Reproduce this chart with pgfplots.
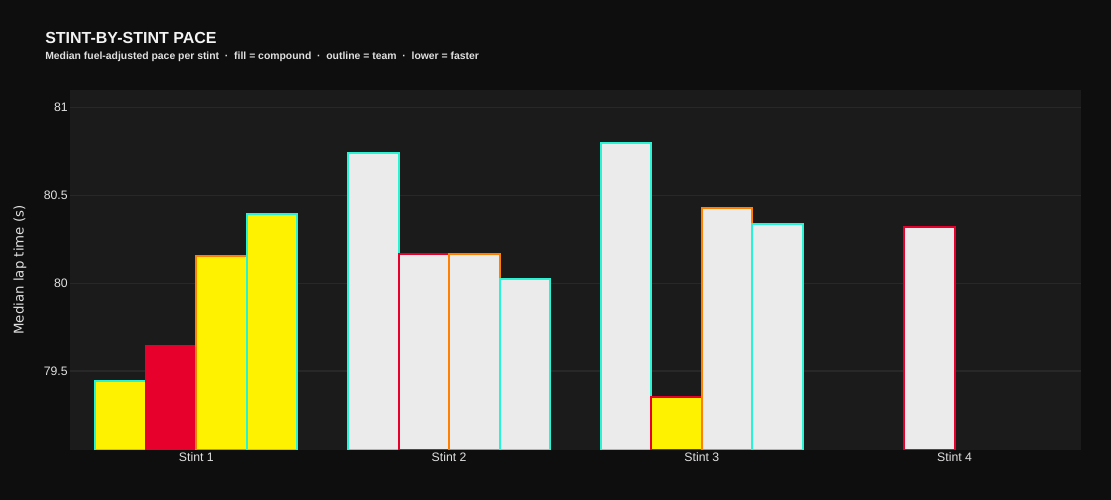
\documentclass[border=0pt]{standalone}
\usepackage{pgfplots}
\pgfplotsset{compat=1.18}
\usepackage{fontspec}
\setmainfont{Liberation Sans}
\newfontfamily\dejavu{DejaVu Sans}
\definecolor{paper}{HTML}{0E0E0E}
\definecolor{plotbg}{HTML}{1B1B1B}
\definecolor{gridc}{HTML}{282828}
\definecolor{soft}{HTML}{E8002D}
\definecolor{medium}{HTML}{FFF200}
\definecolor{hard}{HTML}{EBEBEB}
\definecolor{merc}{HTML}{27F4D2}
\definecolor{fer}{HTML}{E8002D}
\definecolor{mcl}{HTML}{FF8000}
\definecolor{ticklab}{HTML}{E0E0E0}
\definecolor{titlec}{HTML}{F2F2F2}
\begin{document}
\begin{tikzpicture}
\fill[paper] (0,0) rectangle (833.25pt,375pt);
\node[anchor=west, text=titlec, font=\bfseries\fontsize{12}{14}\selectfont, inner sep=0pt] at (33.75pt,346.5pt) {STINT-BY-STINT PACE};
\node[anchor=west, text=ticklab, font=\bfseries\fontsize{7.8}{9}\selectfont, inner sep=0pt] at (33.75pt,332.2pt) {Median fuel-adjusted pace per stint \ \textperiodcentered\ \ fill = compound \ \textperiodcentered\ \ outline = team \ \textperiodcentered\ \ lower = faster};
\begin{axis}[at={(52.5pt,37.5pt)}, anchor=south west, scale only axis,
  width=758.25pt, height=270pt,
  xmin=-0.5, xmax=3.5, ymin=79.05, ymax=81.1,
  ybar, bar width=0.2,
  axis background/.style={fill=plotbg},
  axis line style={draw=none},
  ytick={79.5,80,80.5,81}, yticklabels={79.5,80,80.5,81},
  xtick={0,1,2,3}, xticklabels={Stint 1,Stint 2,Stint 3,Stint 4},
  major tick length=0,
  ymajorgrids, grid style={gridc, line width=0.9pt},
  tick label style={font=\fontsize{9.2}{10}\selectfont, text=ticklab},
  yticklabel style={inner sep=1.5pt},
  xticklabel style={inner sep=2pt},
  ylabel={Median lap time (s)},
  ylabel style={at={(rel axis cs:-0.0494,0.5)}, anchor=center, font=\dejavu\fontsize{10}{12}\selectfont, text=ticklab},
  every axis plot/.append style={line width=1.5pt},
]
% slot 1 (Mercedes outline)
\addplot[bar shift=-0.3, fill=medium, draw=merc] coordinates {(0,79.443)};
\addplot[bar shift=-0.3, fill=hard, draw=merc] coordinates {(1,80.739) (2,80.800)};
% slot 2 (Ferrari outline)
\addplot[bar shift=-0.1, fill=soft, draw=fer] coordinates {(0,79.642)};
\addplot[bar shift=-0.1, fill=hard, draw=fer] coordinates {(1,80.168) (3,80.321)};
\addplot[bar shift=-0.1, fill=medium, draw=fer] coordinates {(2,79.352)};
% slot 3 (McLaren outline)
\addplot[bar shift=0.1, fill=medium, draw=mcl] coordinates {(0,80.153)};
\addplot[bar shift=0.1, fill=hard, draw=mcl] coordinates {(1,80.168) (2,80.429)};
% slot 4 (Mercedes outline)
\addplot[bar shift=0.3, fill=medium, draw=merc] coordinates {(0,80.395)};
\addplot[bar shift=0.3, fill=hard, draw=merc] coordinates {(1,80.026) (2,80.338)};
\end{axis}
\end{tikzpicture}
\end{document}
